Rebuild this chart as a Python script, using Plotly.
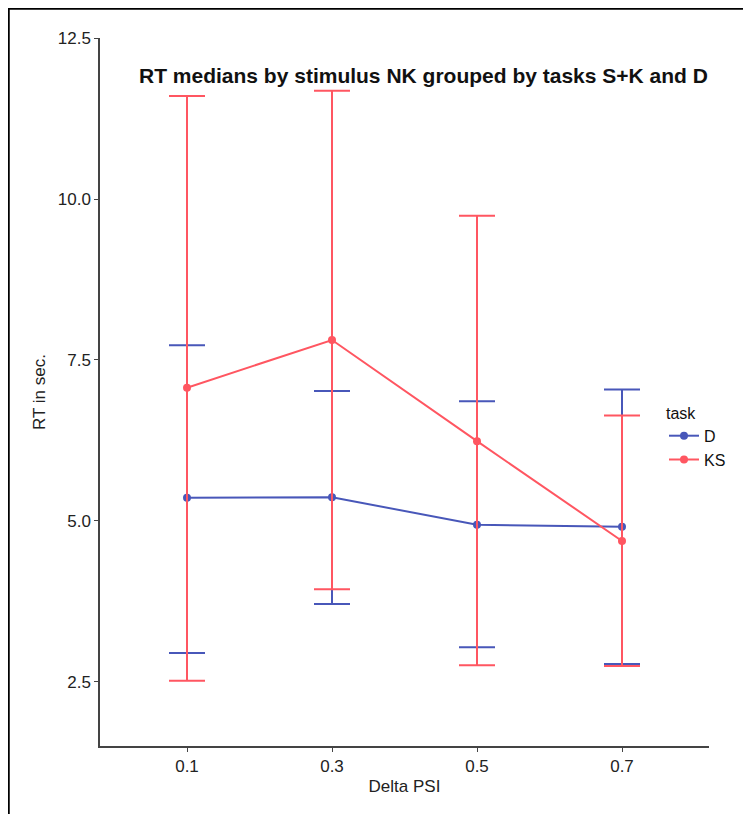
import plotly.graph_objects as go

delta_psi = ["0.1", "0.3", "0.5", "0.7"]

d_median = [5.36, 5.37, 4.94, 4.91]
d_upper = [7.73, 7.02, 6.86, 7.04]
d_lower = [2.95, 3.71, 3.04, 2.78]

ks_median = [7.07, 7.81, 6.24, 4.69]
ks_upper = [11.60, 11.68, 9.74, 6.64]
ks_lower = [2.52, 3.94, 2.76, 2.75]

y_ticks = [2.5, 5.0, 7.5, 10.0, 12.5]
y_tick_text = ["2.5", "5.0", "7.5", "10.0", "12.5"]

D_COLOR = "#4857b9"
KS_COLOR = "#ff5661"

# the page body adds an 8px offset; work in page pixels and convert
OFF = 8
W, H = 751 - OFF, 814 - OFF
ML, MT = 100 - OFF, 38 - OFF
PLOT_R, PLOT_B = 709 - OFF, 746 - OFF
MR, MB = W - PLOT_R, H - PLOT_B
PW, PH = W - ML - MR, H - MT - MB


def px(page_x):
    return (page_x - OFF - ML) / PW


def py(page_y):
    return 1 - (page_y - OFF - MT) / PH


def err_arrays(med, up, lo):
    plus = [u - m for u, m in zip(up, med)]
    minus = [m - l for m, l in zip(med, lo)]
    return plus, minus


fig = go.Figure()
for name, med, up, lo, col in [
    ("D", d_median, d_upper, d_lower, D_COLOR),
    ("KS", ks_median, ks_upper, ks_lower, KS_COLOR),
]:
    plus, minus = err_arrays(med, up, lo)
    fig.add_trace(go.Scatter(
        x=delta_psi, y=med, name=name, mode="lines+markers",
        line=dict(color=col, width=2),
        marker=dict(color=col, size=8),
        error_y=dict(type="data", symmetric=False, array=plus, arrayminus=minus,
                     color=col, thickness=2, width=18),
    ))

fig.update_layout(
    width=W, height=H,
    margin=dict(l=ML, r=MR, t=MT, b=MB, autoexpand=False),
    paper_bgcolor="white", plot_bgcolor="white",
    font=dict(family="Liberation Sans, Arial, sans-serif", color="#1a1a1a"),
    showlegend=True,
    legend=dict(
        title=dict(text="task", font=dict(size=16, color="#111")),
        font=dict(size=16, color="#111"),
        x=px(664), y=py(398), xanchor="left", yanchor="top",
        bgcolor="rgba(0,0,0,0)", itemwidth=30,
    ),
    annotations=[dict(
        text="<b>RT medians by stimulus NK grouped by tasks S+K and D</b>",
        x=px(423), y=py(75), xref="paper", yref="paper",
        xanchor="center", yanchor="middle", showarrow=False,
        font=dict(size=21, color="#111"),
    )],
    shapes=[
        dict(type="line", xref="paper", yref="paper",
             x0=px(8.5), x1=px(8.5), y0=py(7), y1=py(830),
             line=dict(color="black", width=2.5)),
        dict(type="line", xref="paper", yref="paper",
             x0=px(7.5), x1=px(760), y0=py(8.5), y1=py(8.5),
             line=dict(color="black", width=2.5)),
    ],
)

fig.update_xaxes(
    type="category", range=[-0.6, 3.6],
    showgrid=False, zeroline=False,
    showline=True, linecolor="#444", linewidth=1.5,
    ticks="outside", ticklen=4, tickcolor="#444",
    tickfont=dict(size=17, color="#222"),
    title=dict(text="Delta PSI", font=dict(size=17, color="#222"), standoff=5),
)
fig.update_yaxes(
    range=[1.506, 12.5],
    tickvals=y_ticks, ticktext=y_tick_text,
    showgrid=False, zeroline=False,
    showline=True, linecolor="#444", linewidth=1.5,
    ticks="outside", ticklen=4, tickcolor="#444",
    tickfont=dict(size=17, color="#222"),
    title=dict(text="RT in sec.", font=dict(size=17, color="#222"), standoff=8),
)

fig.write_html("out.html")
